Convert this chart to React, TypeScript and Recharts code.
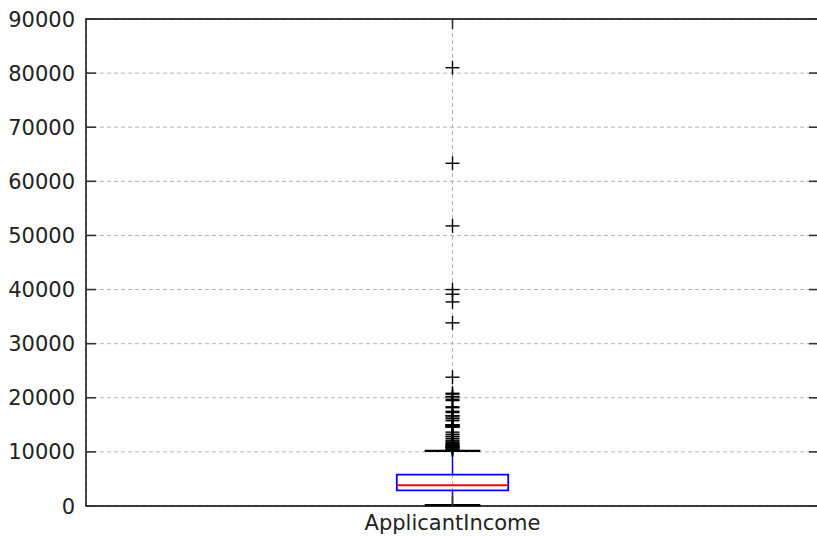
import React from 'react';
import {
  ComposedChart,
  Scatter,
  XAxis,
  YAxis,
  CartesianGrid,
  ReferenceArea,
  ReferenceLine,
} from 'recharts';

// ApplicantIncome box statistics
const categories = ['ApplicantIncome'];
const position = 1;
const q1 = 2877.5;
const median = 3812.5;
const q3 = 5795;
const whiskerLow = 150;
const whiskerHigh = 10171;
const fliers = [
  10408, 10416, 10513, 10750, 10750, 10833, 10890, 11000, 11146, 11250, 11417, 11500,
  11757, 12000, 12173, 12500, 12841, 12876, 13262, 13650, 14583, 14583, 14683, 14866,
  14880, 14999, 15000, 15000, 15759, 16120, 16250, 16666, 16667, 16692, 17263, 17500,
  18165, 18333, 19484, 19730, 20166, 20233, 20667, 20833, 23803, 33846, 37719, 39147,
  39999, 51763, 63337, 81000,
];
const yTicks = [0, 10000, 20000, 30000, 40000, 50000, 60000, 70000, 80000, 90000];

const BOX_HALF = 0.076;
const CAP_HALF = 0.038;

const W = 820;
const H = 542;
const M = { top: 19, right: 1, bottom: 0, left: 0 };
const Y_AXIS_W = 86;
const X_AXIS_H = 36;
const PLOT_LEFT = M.left + Y_AXIS_W;
const PLOT_RIGHT = W - M.right;
const PLOT_TOP = M.top;
const PLOT_BOTTOM = H - M.bottom - X_AXIS_H;
const TICK_LEN = 10;
const FONT = '"DejaVu Sans", sans-serif';

const flierData = fliers.map((v) => ({ x: position, y: v }));

const Plus = (props: any) => {
  const { cx, cy } = props;
  const s = 7;
  return (
    <g stroke="#000" strokeWidth={1.4}>
      <line x1={cx - s} y1={cy} x2={cx + s} y2={cy} />
      <line x1={cx} y1={cy - s} x2={cx} y2={cy + s} />
    </g>
  );
};

const YTick = (props: any) => {
  const { x, y, payload } = props;
  return (
    <g>
      <line x1={PLOT_LEFT} y1={y} x2={PLOT_LEFT + TICK_LEN} y2={y} stroke="#333" strokeWidth={1.6} />
      <line x1={PLOT_RIGHT - TICK_LEN} y1={y} x2={PLOT_RIGHT} y2={y} stroke="#333" strokeWidth={1.6} />
      <text x={x} y={y} dy="0.36em" textAnchor="end" fontSize={21} fontFamily={FONT} fill="#222">
        {payload.value}
      </text>
    </g>
  );
};

const XTick = (props: any) => {
  const { x, y, index } = props;
  return (
    <g>
      <line x1={x} y1={PLOT_TOP} x2={x} y2={PLOT_TOP + TICK_LEN} stroke="#333" strokeWidth={1.6} />
      <line x1={x} y1={PLOT_BOTTOM - TICK_LEN} x2={x} y2={PLOT_BOTTOM} stroke="#333" strokeWidth={1.6} />
      <text x={x} y={y} dy="0.71em" textAnchor="middle" fontSize={21} fontFamily={FONT} fill="#222">
        {categories[index]}
      </text>
    </g>
  );
};

// plot frame: only left, top and bottom edges fall inside the visible area
const Frame = (props: any) => {
  const { x, y, width, height } = props;
  return (
    <path
      d={`M${x + width},${y} L${x},${y} L${x},${y + height} L${x + width},${y + height}`}
      fill="none"
      stroke="#000"
      strokeWidth={1.4}
    />
  );
};

export default function App() {
  return (
    <div style={{ position: 'absolute', left: 0, top: 0, width: 817, height: 542, overflow: 'hidden', background: '#fff' }}>
      <ComposedChart width={W} height={H} margin={M}>
        <CartesianGrid stroke="#b4b4b4" strokeDasharray="4 3" />
        <XAxis
          type="number"
          dataKey="x"
          domain={[0.5, 1.5]}
          ticks={[position]}
          allowDataOverflow
          height={X_AXIS_H}
          axisLine={false}
          tickLine={false}
          tickSize={0}
          tickMargin={9}
          tick={<XTick />}
        />
        <YAxis
          type="number"
          dataKey="y"
          domain={[0, 90000]}
          ticks={yTicks}
          allowDataOverflow
          width={Y_AXIS_W}
          axisLine={false}
          tickLine={false}
          tickSize={0}
          tickMargin={11}
          tick={<YTick />}
        />
        <Scatter data={flierData} shape={<Plus />} isAnimationActive={false} />
        <ReferenceLine
          segment={[{ x: position, y: q3 }, { x: position, y: whiskerHigh }]}
          stroke="#0000ff"
          strokeWidth={1.5}
        />
        <ReferenceLine
          segment={[{ x: position, y: whiskerLow }, { x: position, y: q1 }]}
          stroke="#0000ff"
          strokeWidth={1.5}
        />
        <ReferenceArea
          x1={position - BOX_HALF}
          x2={position + BOX_HALF}
          y1={q1}
          y2={q3}
          fill="none"
          fillOpacity={0}
          stroke="#0000ff"
          strokeWidth={1.8}
        />
        <ReferenceLine
          segment={[{ x: position - BOX_HALF, y: median }, { x: position + BOX_HALF, y: median }]}
          stroke="#ff0000"
          strokeWidth={2}
        />
        <ReferenceLine
          segment={[{ x: position - CAP_HALF, y: whiskerHigh }, { x: position + CAP_HALF, y: whiskerHigh }]}
          stroke="#000"
          strokeWidth={2.2}
        />
        <ReferenceLine
          segment={[{ x: position - CAP_HALF, y: whiskerLow }, { x: position + CAP_HALF, y: whiskerLow }]}
          stroke="#000"
          strokeWidth={2.2}
        />
        <ReferenceArea x1={0.5} x2={1.5} y1={0} y2={90000} shape={<Frame />} />
      </ComposedChart>
    </div>
  );
}
